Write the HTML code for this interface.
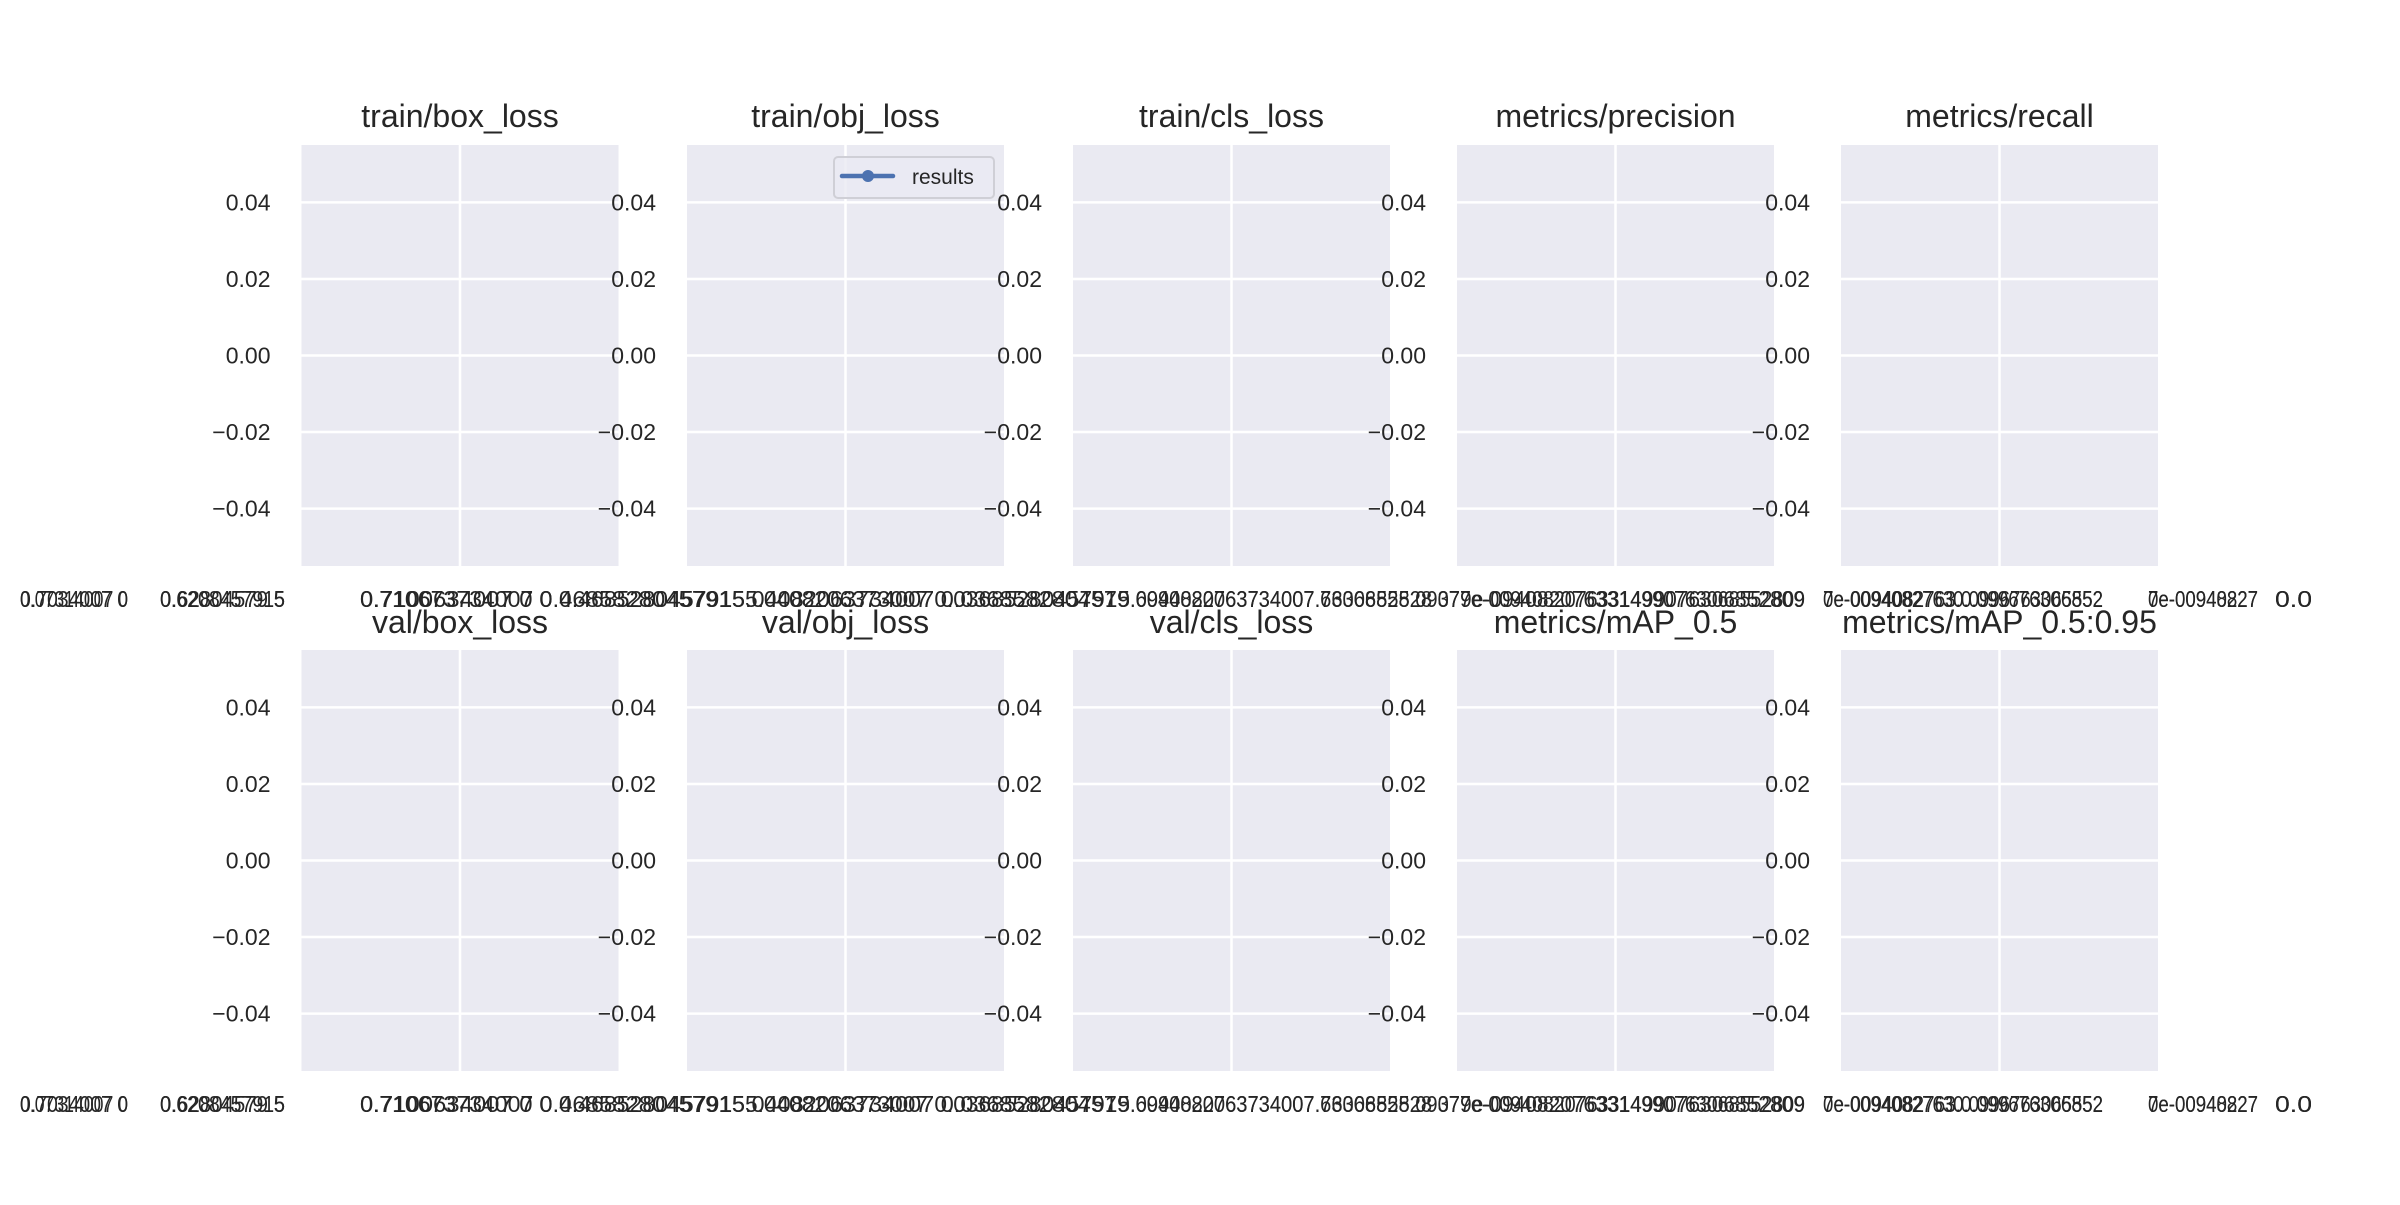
<!DOCTYPE html>
<html><head><meta charset="utf-8"><style>
html,body{margin:0;padding:0;background:#fff;}
svg text{font-family:"Liberation Sans",sans-serif;fill:#262626;}
</style></head><body>
<svg id="chart" width="2400" height="1200" viewBox="0 0 2400 1200" xmlns="http://www.w3.org/2000/svg"></svg>
<script>
const titles = ["train/box_loss","train/obj_loss","train/cls_loss","metrics/precision","metrics/recall",
                "val/box_loss","val/obj_loss","val/cls_loss","metrics/mAP_0.5","metrics/mAP_0.5:0.95"];
const yTicks = [0.04,0.02,0.00,-0.02,-0.04];
const yTickLabels = ["0.04","0.02","0.00","\u22120.02","\u22120.04"];
const xTickSegA = ["0.07314007 0","0.62804579 5","0.710673734007 0 0.4685280457915","5.0408206373007 0.03685280457915",".0940820763734007.63068528 0937","9e-094082076331499076306852809","7e-0094082763.0.099676306852","7e-00940827","0.0"];
const xTickSegB = ["0.7034007 0","0.6208457915","0.7100634007 0 0.46858280457915",".04082063734007 0.0368582804579",".6094082063734007.7630685528 07","7e-00940820763314990763068552809","0e-00940827630.0996763065552","0e-00948227","0.0"];
const segX = [20,160,360,745,1130,1460,1823,2148,2275];
const segW = [108,125,385,385,330,345,280,110,37];
const yMin = -0.055, yMax = 0.055;

const NS = "http://www.w3.org/2000/svg";
const svg = document.getElementById('chart');
function mk(tag, attrs){const e=document.createElementNS(NS,tag);for(const k in attrs)e.setAttribute(k,attrs[k]);return e;}
const panelL = [301.5,687,1073,1457,1841], panelW = 317;
const rowTop = [145,650], panelH = 421;
function yScale(v,row){return rowTop[row] + (yMax - v)/(yMax - yMin)*panelH;}

for(let r=0;r<2;r++){
  for(let c=0;c<5;c++){
    const i=r*5+c, x0=panelL[c], y0=rowTop[r];
    const g=mk('g',{});
    
    
    const bg=mk('rect',{x:x0,y:y0,width:panelW,height:panelH,fill:'#EAEAF2'});
    
    
    g.appendChild(bg);
    yTicks.forEach((v,k)=>{
      const y=yScale(v,r);
      const gl=mk('line',{x1:x0,x2:x0+panelW,y1:y,y2:y,stroke:'#fff','stroke-width':2.5});
      
      
      g.appendChild(gl);
      const t=mk('text',{x:x0-31,y:y+8,'font-size':23,'text-anchor':'end'});
      t.textContent=yTickLabels[k];
      
      
      g.appendChild(t);
    });
    const vl=mk('line',{x1:x0+panelW/2,x2:x0+panelW/2,y1:y0,y2:y0+panelH,stroke:'#fff','stroke-width':2.5});
    
    
    g.appendChild(vl);
    const tt=mk('text',{x:x0+panelW/2,y:r===0?127:633,'font-size':32,'text-anchor':'middle'});
    tt.textContent=titles[i];
    
    
    g.appendChild(tt);
    svg.appendChild(g);
  }
  const base = r===0?607:1112;
  segX.forEach((sx,k)=>{
    [xTickSegA[k],xTickSegB[k]].forEach(s=>{
      const t=mk('text',{x:sx,y:base,'font-size':23,textLength:segW[k],lengthAdjust:'spacingAndGlyphs'});
      t.textContent=s;
      
      
      svg.appendChild(t);
    });
  });
}
// legend
const lg=mk('g',{});


const lb=mk('rect',{x:834,y:157,width:160,height:41,rx:4,fill:'#EAEAF2',stroke:'#cfcfd6','stroke-width':2,'fill-opacity':0.8});


lg.appendChild(lb);
const ll=mk('line',{x1:842,x2:893,y1:176,y2:176,stroke:'#4C72B0','stroke-width':4.5,'stroke-linecap':'round'});


lg.appendChild(ll);
const lc=mk('circle',{cx:868,cy:176,r:6,fill:'#4C72B0'});


lg.appendChild(lc);
const lt=mk('text',{x:912,y:184,'font-size':21});
lt.textContent='results';


lg.appendChild(lt);
svg.appendChild(lg);
</script>
</body></html>
